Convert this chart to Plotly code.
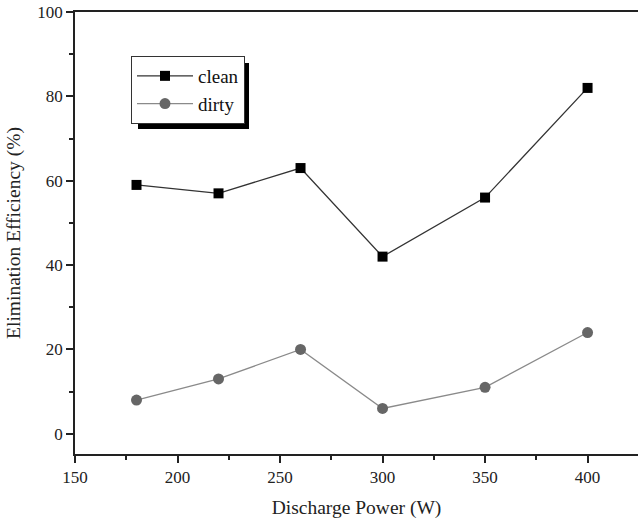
import plotly.graph_objects as go

power = [180, 220, 260, 300, 350, 400]
clean = [59, 57, 63, 42, 56, 82]
dirty = [8, 13, 20, 6, 11, 24]
x_ticks = [150, 200, 250, 300, 350, 400]
y_ticks = [0, 20, 40, 60, 80, 100]

font = "Liberation Serif, Times New Roman, serif"

fig = go.Figure()
fig.add_trace(go.Scatter(x=power, y=clean, name="clean", mode="lines+markers",
                         line=dict(color="#333333", width=1.3),
                         marker=dict(symbol="square", size=10, color="black")))
fig.add_trace(go.Scatter(x=power, y=dirty, name="dirty", mode="lines+markers",
                         line=dict(color="#8a8a8a", width=1.3),
                         marker=dict(symbol="circle", size=11, color="#666666")))

# legend shadow
fig.add_shape(type="rect", xref="paper", yref="paper",
              x0=(138 - 75) / 563, x1=(249 - 75) / 563,
              y0=(454 - 129) / 442, y1=(454 - 63) / 442,
              fillcolor="black", line=dict(width=0), layer="above")

fig.update_layout(
    width=638, height=524,
    margin=dict(l=75, r=0, t=12, b=70),
    paper_bgcolor="white", plot_bgcolor="white",
    font=dict(family=font, size=17, color="#222"),
    showlegend=True,
    legend=dict(x=(131 - 75) / 563, y=(454 - 56) / 442, xanchor="left", yanchor="top",
                bgcolor="white", bordercolor="#333", borderwidth=1,
                font=dict(family=font, size=19, color="#111"),
                itemwidth=56, tracegroupgap=0),
    xaxis=dict(range=[150, 424.6], tickvals=x_ticks, ticks="outside", ticklen=7, tickwidth=1.5,
               tickcolor="#222", showline=True, linecolor="#222", linewidth=1.5, mirror=True,
               showgrid=False, zeroline=False, tickfont=dict(size=17),
               minor=dict(tickvals=[175, 225, 275, 325, 375, 425], ticks="outside", ticklen=4,
                          tickcolor="#222", tickwidth=1.5),
               title=dict(text="Discharge Power (W)", font=dict(size=19.5), standoff=14)),
    yaxis=dict(range=[-4.8, 100], tickvals=y_ticks, ticks="outside", ticklen=7, tickwidth=1.5,
               tickcolor="#222", showline=True, linecolor="#222", linewidth=1.5,
               showgrid=False, zeroline=False, tickfont=dict(size=17),
               minor=dict(tickvals=[10, 30, 50, 70, 90], ticks="outside", ticklen=4,
                          tickcolor="#222", tickwidth=1.5),
               title=dict(text="Elimination Efficiency (%)", font=dict(size=19.5), standoff=12)),
)

fig.write_html("out.html")
